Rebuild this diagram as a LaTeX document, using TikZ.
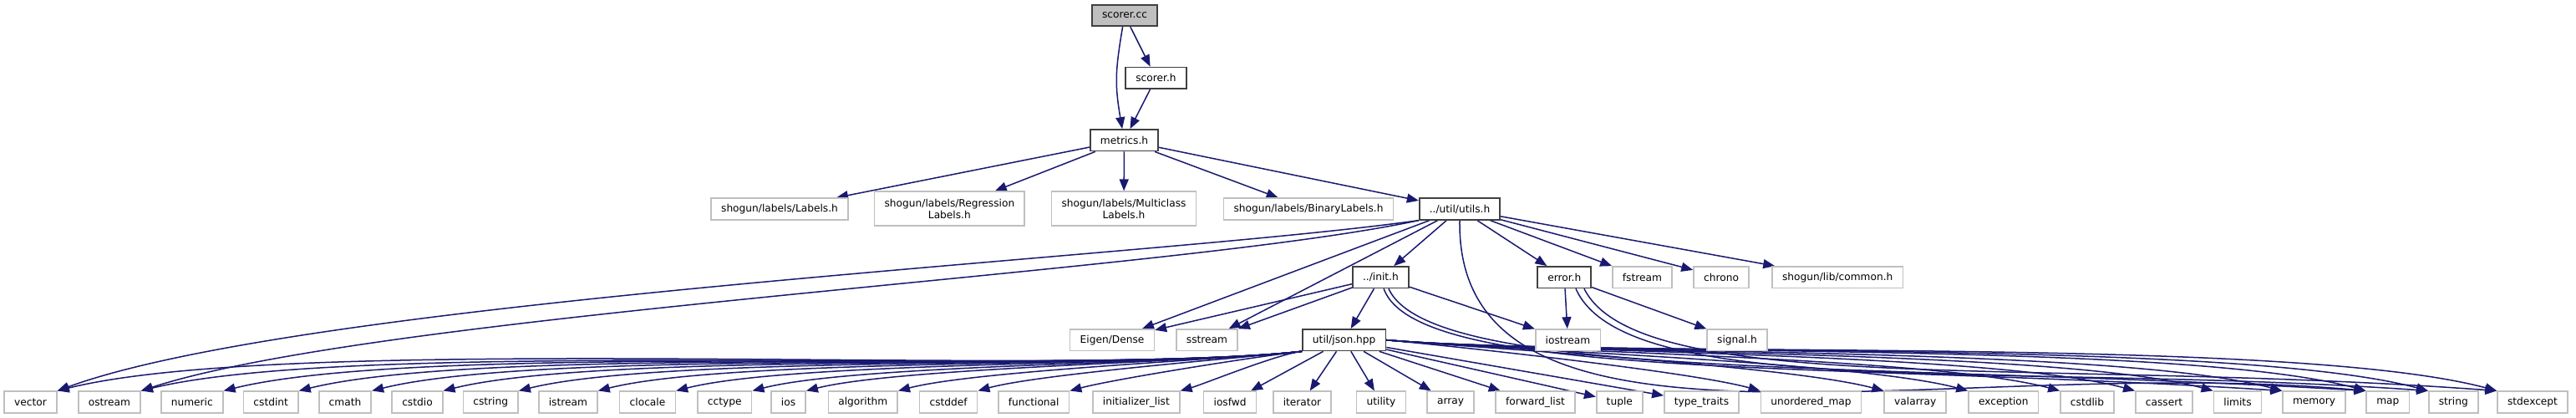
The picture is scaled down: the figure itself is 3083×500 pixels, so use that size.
\documentclass[tikz,border=0pt]{standalone}
\usepackage{fontspec}
\setmainfont{DejaVu Sans}
\usetikzlibrary{arrows.meta, backgrounds}
\definecolor{edgeblue}{RGB}{25,25,112}
\definecolor{boxgray}{RGB}{191,191,191}
\definecolor{boxdark}{RGB}{64,64,64}

\begin{document}
\begin{tikzpicture}[
  x=1pt, y=-1pt,
  extfile/.style={rectangle, draw=boxgray, fill=white, line width=1.6pt, inner xsep=12pt, inner ysep=0pt,
                  minimum height=25.5pt, font=\fontsize{12.2}{14}\selectfont},
  docfile/.style={extfile, draw=boxdark, line width=1.8pt},
  rootfile/.style={docfile, fill=boxgray},
  twoline/.style={align=center, minimum height=41pt},
  dep/.style={-{Triangle[length=14pt, width=11pt]}, line width=1.5pt, edgeblue},
]
\useasboundingbox (0,0) rectangle (3083,500);

% Source file
\node[rootfile] (scorercc) at (1346,18.5) {scorer.cc};
\node[docfile] (scorerh) at (1383.5,93.3) {scorer.h};
\node[docfile] (metrics) at (1345.5,167.8) {metrics.h};

% Label headers
\node[extfile] (labels) at (933,250) {shogun/labels/Labels.h};
\node[extfile, twoline] (reglabels) at (1136.4,249.7) {shogun/labels/Regression\\Labels.h};
\node[extfile, twoline] (mclabels) at (1345,249.7) {shogun/labels/Multiclass\\Labels.h};
\node[extfile] (binlabels) at (1566,250) {shogun/labels/BinaryLabels.h};
\node[docfile] (utils) at (1747,250) {../util/utils.h};

% Utils includes
\node[docfile] (init) at (1652.4,331.7) {../init.h};
\node[docfile] (error) at (1872.3,331.7) {error.h};
\node[extfile] (fstream) at (1965.4,331.7) {fstream};
\node[extfile] (chrono) at (2060,331.7) {chrono};
\node[extfile] (common) at (2199.2,331.7) {shogun/lib/common.h};

% Init and error includes
\node[extfile] (eigen) at (1331,406.7) {Eigen/Dense};
\node[extfile] (sstream) at (1444.5,406.7) {sstream};
\node[docfile] (json) at (1608.7,406.7) {util/json.hpp};
\node[extfile] (iostream) at (1876.5,406.7) {iostream};
\node[extfile] (signal) at (2079,406.7) {signal.h};

% Standard headers
\node[extfile] (vector) at (36.5,481) {vector};
\node[extfile] (ostream) at (130.9,481) {ostream};
\node[extfile] (numeric) at (229.8,481) {numeric};
\node[extfile] (cstdint) at (324.2,481) {cstdint};
\node[extfile] (cmath) at (413,481) {cmath};
\node[extfile] (cstdio) at (499.5,481) {cstdio};
\node[extfile] (cstring) at (587.2,481) {cstring};
\node[extfile] (istream) at (679.9,481) {istream};
\node[extfile] (clocale) at (775,481) {clocale};
\node[extfile] (cctype) at (867.3,481) {cctype};
\node[extfile] (ios) at (943.5,481) {ios};
\node[extfile] (algorithm) at (1032.8,481) {algorithm};
\node[extfile] (cstddef) at (1135.1,481) {cstddef};
\node[extfile] (functional) at (1237.2,481) {functional};
\node[extfile] (initlist) at (1359.9,481) {initializer\_list};
\node[extfile] (iosfwd) at (1472.1,481) {iosfwd};
\node[extfile] (iterator) at (1558.5,481) {iterator};
\node[extfile] (utility) at (1653,481) {utility};
\node[extfile] (array) at (1736,481) {array};
\node[extfile] (fwdlist) at (1837.5,481) {forward\_list};
\node[extfile] (tuple) at (1938.3,481) {tuple};
\node[extfile] (typetraits) at (2036.5,481) {type\_traits};
\node[extfile] (umap) at (2167.5,481) {unordered\_map};
\node[extfile] (valarray) at (2292.2,481) {valarray};
\node[extfile] (exception) at (2397.8,481) {exception};
\node[extfile] (cstdlib) at (2498,481) {cstdlib};
\node[extfile] (cassert) at (2590,481) {cassert};
\node[extfile] (limits) at (2678,481) {limits};
\node[extfile] (memory) at (2769.5,481) {memory};
\node[extfile] (map) at (2857.8,481) {map};
\node[extfile] (string) at (2936.3,481) {string};
\node[extfile] (stdexcept) at (3031,481) {stdexcept};

\begin{pgfonlayer}{background}
% scorer.cc
\draw[dep] (scorercc.-100) .. controls +(-9,53) and +(-9,-53) .. (metrics.100);
\draw[dep] (scorercc) -- (scorerh);
\draw[dep] (scorerh) -- (metrics);

% metrics.h
\draw[dep] (metrics) -- (labels);
\draw[dep] (metrics) -- (reglabels);
\draw[dep] (metrics) -- (mclabels);
\draw[dep] (metrics) -- (binlabels);
\draw[dep] (metrics) -- (utils);

% utils.h
\draw[dep] (utils.south west) .. controls +(-319,45) and +(302,-110) .. (vector.north east);
\draw[dep] (utils.south west) .. controls +(-295,63) and +(287,-93) .. (ostream.north east);
\draw[dep] (utils) -- (eigen);
\draw[dep] (utils) -- (sstream);
\draw[dep] (utils) -- (init);
\draw[dep] (utils.south) .. controls +(-5,320) and +(-500,-45) .. (map.north west);
\draw[dep] (utils) -- (error);
\draw[dep] (utils) -- (fstream);
\draw[dep] (utils) -- (chrono);
\draw[dep] (utils) -- (common);

% init.h
\draw[dep] (init) -- (eigen);
\draw[dep] (init) -- (sstream);
\draw[dep] (init) -- (json);
\draw[dep] (init) -- (iostream);
\draw[dep] (init.-75) .. controls +(40,110) and +(-550,-35) .. (memory.north west);
\draw[dep] (init.-55) .. controls +(50,110) and +(-600,-35) .. (map.north west);

% error.h
\draw[dep] (error) -- (iostream);
\draw[dep] (error) -- (signal);
\draw[dep] (error.-45) .. controls +(60,135) and +(-500,-35) .. (string.north west);
\draw[dep] (error.-30) .. controls +(65,130) and +(-550,-40) .. (stdexcept.north west);

% json.hpp
\draw[dep] (json.south west) .. controls +(-292,32) and +(282,-70) .. (vector.north east);
\draw[dep] (json.south west) .. controls +(-272,31) and +(263,-64) .. (ostream.north east);
\draw[dep] (json.south west) .. controls +(-253,29) and +(244,-60) .. (numeric.north east);
\draw[dep] (json.south west) .. controls +(-235,27) and +(227,-56) .. (cstdint.north east);
\draw[dep] (json.south west) .. controls +(-218,25) and +(211,-52) .. (cmath.north east);
\draw[dep] (json.south west) .. controls +(-201,23) and +(194,-48) .. (cstdio.north east);
\draw[dep] (json.south west) .. controls +(-184,21) and +(178,-44) .. (cstring.north east);
\draw[dep] (json.south west) .. controls +(-165,19) and +(159,-40) .. (istream.north east);
\draw[dep] (json.south west) .. controls +(-147,17) and +(142,-36) .. (clocale.north east);
\draw[dep] (json.south west) .. controls +(-129,15) and +(125,-32) .. (cctype.north east);
\draw[dep] (json.south west) .. controls +(-116,13) and +(112,-28) .. (ios.north east);
\draw[dep] (json.south west) .. controls +(-95,10) and +(92,-24) .. (algorithm.north east);
\draw[dep] (json.south west) .. controls +(-76,8) and +(73,-20) .. (cstddef.north east);
\draw[dep] (json.south west) .. controls +(-55,6) and +(53,-14) .. (functional.north east);
\draw[dep] (json.south west) .. controls +(-29,3) and +(28,-8) .. (initlist.north east);
\draw[dep] (json) -- (iosfwd);
\draw[dep] (json) -- (iterator);
\draw[dep] (json) -- (utility);
\draw[dep] (json) -- (array);
\draw[dep] (json) -- (fwdlist);
\draw[dep] (json) -- (tuple);
\draw[dep] (json) -- (typetraits);
\draw[dep] (json.east) .. controls +(87,8) and +(-84,-23) .. (umap.north west);
\draw[dep] (json.east) .. controls +(117,10) and +(-113,-30) .. (valarray.north west);
\draw[dep] (json.east) .. controls +(136,12) and +(-131,-35) .. (exception.north west);
\draw[dep] (json.east) .. controls +(158,14) and +(-153,-41) .. (cstdlib.north west);
\draw[dep] (json.east) .. controls +(176,15) and +(-170,-46) .. (cassert.north west);
\draw[dep] (json.east) .. controls +(194,17) and +(-187,-50) .. (limits.north west);
\draw[dep] (json.east) .. controls +(210,18) and +(-203,-54) .. (memory.north west);
\draw[dep] (json.east) .. controls +(230,20) and +(-222,-60) .. (map.north west);
\draw[dep] (json.east) .. controls +(244,21) and +(-236,-63) .. (string.north west);
\draw[dep] (json.east) .. controls +(260,23) and +(-251,-67) .. (stdexcept.north west);
\end{pgfonlayer}

\end{tikzpicture}
\end{document}
